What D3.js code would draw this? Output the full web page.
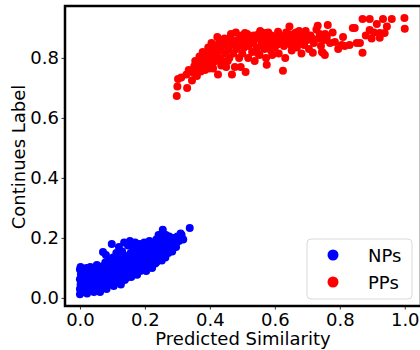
<!DOCTYPE html>
<html lang="en">
<head>
    <meta charset="UTF-8">
    <title>Predicted Similarity vs Continues Label</title>
    <script src="https://d3js.org/d3.v7.min.js"></script>
    <style>
        body {
            margin: 0;
            background: white;
            font-family: "DejaVu Sans", sans-serif;
        }
        .tick text {
            font-size: 18px;
            fill: #000;
        }
        .tick line {
            stroke: #000;
            stroke-width: 0.8;
        }
        .axis-label {
            font-size: 18px;
            fill: #000;
        }
    </style>
</head>
<body>
    <div id="chart"></div>

    <script>
        // Data: [predicted similarity, continues label]
        const npPoints = [
            [0.000,0.012],[0.000,0.030],[0.002,0.045],[0.000,0.062],[0.003,0.078],[0.000,0.095],[0.002,0.103],
            [0.008,0.020],[0.010,0.055],[0.012,0.085],[0.015,0.035],[0.018,0.070],[0.020,0.100],[0.022,0.015],
            [0.025,0.050],[0.028,0.088],[0.030,0.025],[0.032,0.103],[0.035,0.065],[0.038,0.040],[0.040,0.080],
            [0.043,0.020],[0.045,0.095],[0.048,0.055],[0.050,0.030],[0.052,0.110],[0.055,0.072],[0.058,0.045],
            [0.060,0.090],[0.062,0.020],[0.065,0.060],[0.068,0.105],[0.070,0.035],[0.071,0.153],[0.073,0.080],
            [0.075,0.050],[0.078,0.118],[0.080,0.143],[0.082,0.030],[0.084,0.095],[0.086,0.065],[0.088,0.125],
            [0.090,0.045],[0.092,0.085],[0.095,0.110],[0.098,0.180],[0.100,0.060],[0.102,0.135],[0.104,0.040],
            [0.106,0.095],[0.108,0.075],[0.110,0.120],[0.112,0.150],[0.114,0.055],[0.116,0.105],[0.118,0.088],
            [0.120,0.170],[0.122,0.065],[0.124,0.130],[0.126,0.045],[0.128,0.100],[0.130,0.155],[0.132,0.080],
            [0.134,0.115],[0.136,0.185],[0.138,0.060],[0.140,0.140],[0.142,0.095],[0.144,0.067],[0.146,0.125],
            [0.148,0.175],[0.150,0.085],[0.152,0.110],[0.154,0.190],[0.156,0.150],[0.158,0.070],[0.160,0.130],
            [0.162,0.100],[0.164,0.165],[0.166,0.080],[0.168,0.120],[0.170,0.185],[0.172,0.140],[0.174,0.095],
            [0.176,0.077],[0.178,0.160],[0.180,0.110],[0.182,0.130],[0.184,0.180],[0.186,0.090],[0.188,0.150],
            [0.190,0.120],[0.192,0.170],[0.194,0.100],[0.196,0.140],[0.198,0.185],[0.200,0.115],[0.202,0.160],
            [0.204,0.090],[0.206,0.130],[0.208,0.175],[0.210,0.105],[0.212,0.150],[0.214,0.190],[0.216,0.120],
            [0.218,0.140],[0.220,0.165],[0.222,0.100],[0.225,0.180],[0.228,0.130],[0.230,0.155],[0.232,0.115],
            [0.235,0.195],[0.236,0.120],[0.238,0.170],[0.240,0.145],[0.242,0.210],[0.245,0.130],[0.248,0.185],
            [0.250,0.160],[0.252,0.125],[0.255,0.227],[0.256,0.200],[0.258,0.145],[0.260,0.175],[0.263,0.135],
            [0.265,0.210],[0.267,0.167],[0.270,0.190],[0.272,0.150],[0.275,0.205],[0.278,0.165],[0.280,0.185],
            [0.284,0.155],[0.288,0.200],[0.292,0.183],[0.296,0.170],[0.300,0.205],[0.305,0.190],[0.310,0.215],
            [0.313,0.210],[0.318,0.195],[0.338,0.233]
        ];

        const ppPoints = [
            [0.298,0.673],[0.300,0.705],[0.302,0.730],[0.312,0.735],[0.330,0.700],[0.328,0.745],[0.335,0.760],
            [0.345,0.725],[0.350,0.750],[0.352,0.772],[0.355,0.790],[0.360,0.740],[0.365,0.765],[0.368,0.805],
            [0.370,0.785],[0.372,0.755],[0.378,0.820],[0.380,0.775],[0.383,0.795],[0.385,0.760],[0.390,0.810],
            [0.392,0.780],[0.395,0.835],[0.398,0.765],[0.400,0.795],[0.404,0.820],[0.405,0.850],[0.408,0.780],
            [0.410,0.765],[0.412,0.805],[0.415,0.835],[0.418,0.790],[0.420,0.815],[0.423,0.870],[0.425,0.745],
            [0.428,0.850],[0.430,0.800],[0.432,0.825],[0.435,0.775],[0.438,0.860],[0.440,0.790],[0.442,0.840],
            [0.445,0.865],[0.448,0.815],[0.450,0.770],[0.452,0.855],[0.455,0.790],[0.458,0.830],[0.460,0.800],
            [0.463,0.870],[0.465,0.880],[0.468,0.745],[0.470,0.845],[0.472,0.815],[0.475,0.855],[0.477,0.770],
            [0.480,0.885],[0.482,0.830],[0.485,0.860],[0.487,0.840],[0.490,0.800],[0.493,0.845],[0.495,0.770],
            [0.498,0.875],[0.500,0.815],[0.503,0.860],[0.505,0.835],[0.508,0.883],[0.510,0.753],[0.512,0.860],
            [0.515,0.880],[0.518,0.800],[0.520,0.840],[0.525,0.870],[0.528,0.855],[0.530,0.820],[0.533,0.850],
            [0.535,0.875],[0.538,0.790],[0.540,0.865],[0.545,0.835],[0.548,0.815],[0.550,0.880],[0.553,0.810],
            [0.555,0.890],[0.558,0.855],[0.562,0.840],[0.565,0.870],[0.568,0.830],[0.570,0.883],[0.573,0.800],
            [0.575,0.777],[0.578,0.845],[0.580,0.885],[0.582,0.860],[0.588,0.825],[0.590,0.875],[0.592,0.810],
            [0.595,0.850],[0.598,0.870],[0.600,0.835],[0.605,0.865],[0.608,0.845],[0.610,0.887],[0.612,0.815],
            [0.615,0.875],[0.618,0.850],[0.622,0.870],[0.625,0.757],[0.628,0.840],[0.632,0.800],[0.635,0.885],
            [0.638,0.860],[0.642,0.880],[0.645,0.905],[0.648,0.845],[0.652,0.825],[0.655,0.865],[0.658,0.880],
            [0.660,0.850],[0.665,0.885],[0.668,0.835],[0.672,0.870],[0.675,0.890],[0.678,0.855],[0.682,0.815],
            [0.685,0.860],[0.688,0.870],[0.690,0.843],[0.695,0.890],[0.698,0.875],[0.700,0.860],[0.705,0.830],
            [0.710,0.875],[0.715,0.865],[0.717,0.817],[0.720,0.850],[0.728,0.895],[0.732,0.907],[0.735,0.865],
            [0.738,0.880],[0.742,0.840],[0.745,0.820],[0.748,0.817],[0.752,0.860],[0.754,0.810],[0.755,0.880],
            [0.760,0.870],[0.763,0.910],[0.770,0.850],[0.778,0.885],[0.785,0.853],[0.795,0.830],[0.806,0.843],
            [0.810,0.870],[0.815,0.840],[0.830,0.843],[0.840,0.900],[0.846,0.900],[0.852,0.850],[0.862,0.850],
            [0.870,0.817],[0.870,0.930],[0.880,0.875],[0.892,0.893],[0.892,0.930],[0.898,0.865],[0.905,0.885],
            [0.914,0.913],[0.923,0.883],[0.923,0.867],[0.933,0.930],[0.938,0.883],[0.945,0.905],[0.960,0.930],
            [0.999,0.933],[1.000,0.897]
        ];

        const xTicks = [0.0, 0.2, 0.4, 0.6, 0.8, 1.0];
        const yTicks = [0.0, 0.2, 0.4, 0.6, 0.8];

        const series = [
            { name: "NPs", color: "#0000ff", points: npPoints },
            { name: "PPs", color: "#ff0000", points: ppPoints }
        ];

        const width = 420;
        const height = 350;
        const margin = { top: 6, right: -1, bottom: 44, left: 65 };

        const svg = d3.select("#chart").append("svg")
            .attr("width", width)
            .attr("height", height);

        // Scales (domain padded like matplotlib's auto margins)
        const x = d3.scaleLinear()
            .domain([-0.046, 1.05])
            .range([margin.left, width - margin.right]);

        const y = d3.scaleLinear()
            .domain([-0.027, 0.973])
            .range([height - margin.bottom, margin.top]);

        // Axes
        svg.append("g")
            .attr("transform", `translate(0, ${height - margin.bottom})`)
            .call(d3.axisBottom(x).tickValues(xTicks).tickFormat(d3.format(".1f")).tickSize(3.5).tickPadding(3.5))
            .call(g => g.select(".domain").remove())
            .call(g => g.selectAll("text").attr("font-family", "DejaVu Sans"));

        svg.append("g")
            .attr("transform", `translate(${margin.left}, 0)`)
            .call(d3.axisLeft(y).tickValues(yTicks).tickFormat(d3.format(".1f")).tickSize(3.5).tickPadding(2.5))
            .call(g => g.select(".domain").remove())
            .call(g => g.selectAll("text").attr("font-family", "DejaVu Sans"));

        // Points
        series.forEach(s => {
            svg.append("g")
                .selectAll("circle")
                .data(s.points)
                .enter().append("circle")
                .attr("cx", d => x(d[0]))
                .attr("cy", d => y(d[1]))
                .attr("r", 4)
                .attr("fill", s.color);
        });

        // Spines
        svg.append("rect")
            .attr("x", margin.left)
            .attr("y", margin.top)
            .attr("width", width - margin.right - margin.left)
            .attr("height", height - margin.bottom - margin.top)
            .attr("fill", "none")
            .attr("stroke", "#000")
            .attr("stroke-width", 2.5);

        // Axis labels
        svg.append("text")
            .attr("class", "axis-label")
            .attr("x", 243)
            .attr("y", 345)
            .attr("text-anchor", "middle")
            .text("Predicted Similarity");

        svg.append("text")
            .attr("class", "axis-label")
            .attr("transform", "translate(25, 157) rotate(-90)")
            .attr("text-anchor", "middle")
            .text("Continues Label");

        // Legend
        const legend = svg.append("g").attr("transform", "translate(307, 239)");
        legend.append("rect")
            .attr("width", 105)
            .attr("height", 60)
            .attr("rx", 4)
            .attr("fill", "white")
            .attr("fill-opacity", 0.8)
            .attr("stroke", "#d9d9d9")
            .attr("stroke-width", 1);

        series.forEach((s, i) => {
            legend.append("circle")
                .attr("cx", 26)
                .attr("cy", 16 + i * 27)
                .attr("r", 5.5)
                .attr("fill", s.color);
            legend.append("text")
                .attr("x", 61)
                .attr("y", 23 + i * 27)
                .attr("font-size", 18)
                .text(s.name);
        });
    </script>
</body>
</html>
